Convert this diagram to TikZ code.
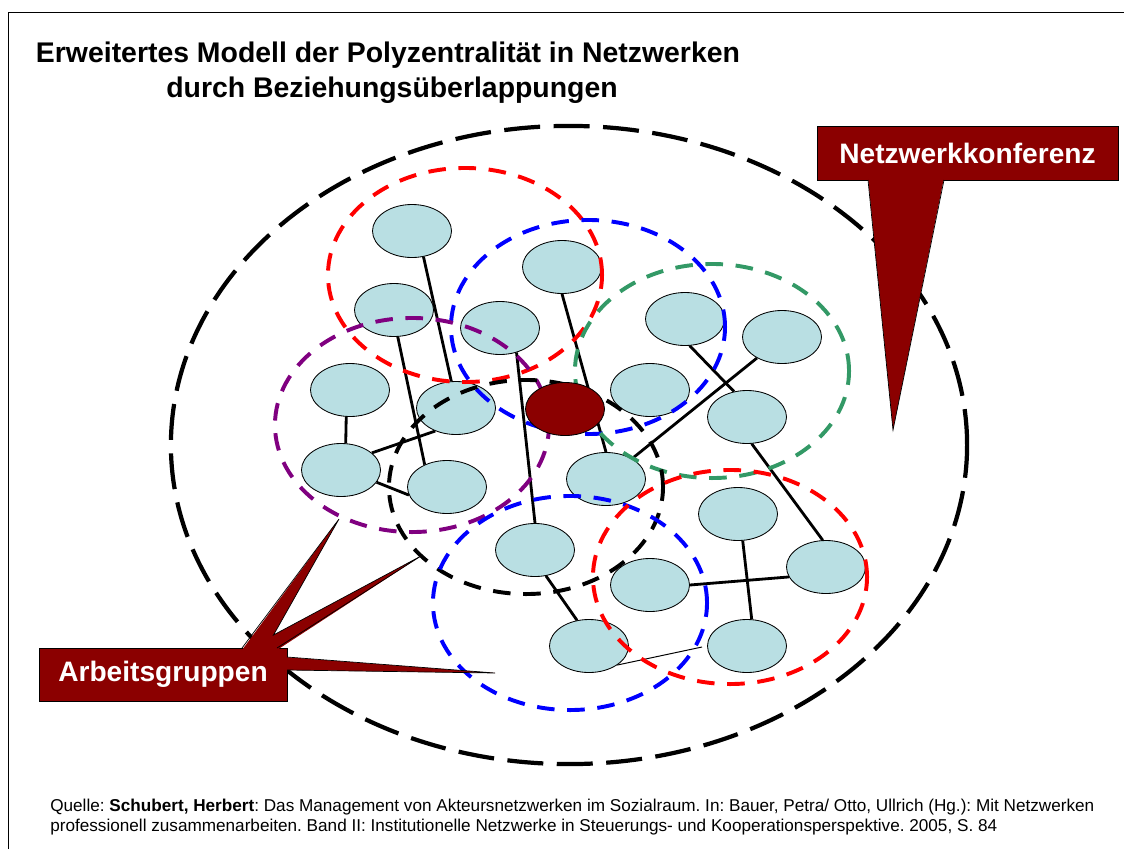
\documentclass[tikz,border=0pt]{standalone}
\usepackage{fontspec}
\setmainfont{Liberation Sans}
\usetikzlibrary{shapes.geometric, backgrounds}
\definecolor{akteurblau}{HTML}{B9DFE3}
\definecolor{dunkelrot}{HTML}{8B0000}
\definecolor{gruppengruen}{HTML}{339966}
\definecolor{gruppenlila}{HTML}{800080}
\frenchspacing

\begin{document}
\begin{tikzpicture}[x=0.025cm, y=-0.025cm,
    akteur/.style={ellipse, draw, line width=0.6pt, fill=akteurblau, minimum width=1.975cm, minimum height=1.325cm, inner sep=0pt},
    gruppe/.style={ellipse, line width=2.8pt, dash pattern=on 12.5pt off 9pt, minimum width=6.85cm, minimum height=5.35cm, inner sep=0pt},
    bezug/.style={line width=2pt},
    hinweis/.style={draw=black, line width=0.5pt, fill=dunkelrot, text=white, font=\fontsize{20}{24}\selectfont\bfseries, inner sep=0pt}]
    \useasboundingbox (0,0) rectangle (1124,849);
    % Rahmen
    \draw[line width=1.4pt] (8.5,849) -- (8.5,12.5) -- (1124,12.5);
    \node[anchor=base, font=\fontsize{20.2}{24}\selectfont\bfseries] (titel1) at (388,62) {Erweitertes Modell der Polyzentralität in Netzwerken};
    \node[anchor=base, font=\fontsize{20.2}{24}\selectfont\bfseries] (titel2) at (392,97) {durch Beziehungsüberlappungen};
    \node[anchor=base west, font=\fontsize{12.2}{14}\selectfont, inner sep=0pt] (quelle1) at (50,811.5) {Quelle: \textbf{Schubert, Herbert}: Das Management von Akteursnetzwerken im Sozialraum. In: Bauer, Petra/ Otto, Ullrich (Hg.): Mit Netzwerken};
    \node[anchor=base west, font=\fontsize{12.2}{14}\selectfont, inner sep=0pt] (quelle2) at (50,831.5) {professionell zusammenarbeiten. Band II: Institutionelle Netzwerke in Steuerungs- und Kooperationsperspektive. 2005, S. 84};

    % Akteure
    \node[akteur] (a1) at (412,231) {};
    \node[akteur] (a2) at (394,310) {};
    \node[akteur] (a3) at (500,328) {};
    \node[akteur] (a4) at (562,267) {};
    \node[akteur] (a5) at (350,390) {};
    \node[akteur] (a6) at (456,408) {};
    \node[akteur] (a8) at (650,390) {};
    \node[akteur] (a9) at (341,470) {};
    \node[akteur] (a10) at (447,487) {};
    \node[akteur] (a11) at (606,479) {};
    \node[akteur] (a12) at (685,319) {};
    \node[akteur] (a13) at (782,337) {};
    \node[akteur] (a14) at (747,417) {};
    \node[akteur] (a15) at (535,550) {};
    \node[akteur] (a16) at (738,514) {};
    \node[akteur] (a17) at (650,585) {};
    \node[akteur] (a18) at (826,567) {};
    \node[akteur] (a19) at (589,646) {};
    \node[akteur] (a20) at (747,646) {};
    \coordinate (offen) at (702,647);

    % Beziehungen
    \begin{scope}[on background layer]
        \draw[bezug] (a1.-66) -- (a6.100);
        \draw[bezug] (a2.-82) -- (a10.135);
        \draw[bezug] (a5.-98) -- (a9.80);
        \draw[bezug] (a9.29) -- (a6.228);
        \draw[bezug] (a9.-19) -- (a10.192);
        \draw[bezug] (a3.-56) -- (a15.north);
        \draw[bezug] (a4.south) -- (a11.north);
        \draw[bezug] (a12.-80) -- (a14.117);
        \draw[bezug] (a13.220) -- (a11.38);
        \draw[bezug] (a14.-80) -- (a18.97);
        \draw[bezug] (a16.-80) -- (a20.80);
        \draw[bezug] (a17.east) -- (a18.195);
        \draw[bezug] (a15.-67) -- (a19.115);
        \draw[line width=0.7pt] (a19.south east) -- (offen);
    \end{scope}

    % Gruppen
    \node[gruppe, draw=red] (rotoben) at (465,275) {};
    \node[gruppe, draw=blue] (blauoben) at (588,327) {};
    \node[gruppe, draw=gruppengruen] (gruen) at (712,371) {};
    \node[gruppe, draw=gruppenlila] (lila) at (412,425) {};
    \node[gruppe, draw=black] (mitte) at (526,487) {};
    \node[gruppe, draw=blue] (blauunten) at (570,603) {};
    \node[gruppe, draw=red] (rotunten) at (730,577) {};
    \node[ellipse, draw, line width=3pt, dash pattern=on 25.6pt off 9.6pt, minimum width=19.9cm, minimum height=15.95cm, inner sep=0pt] (konferenz) at (569,445) {};

    \node[akteur, fill=dunkelrot] (zentrum) at (565,409) {};

    % Hinweise
    \node[hinweis, minimum width=7.525cm, minimum height=1.35cm] (netzkonf) at (967.5,153) {Netzwerkkonferenz};
    \fill[dunkelrot] (868,178) -- (893,430) -- (944,178) -- cycle;
    \draw[line width=0.5pt] (868,180) -- (893,430) -- (944,180);

    \node[hinweis, minimum width=6.2cm, minimum height=1.325cm] (arbeitsgr) at (163,674.5) {Arbeitsgruppen};
    \fill[dunkelrot] (242,650) -- (339,519) -- (273.5,635) -- (421,556) -- (277,650) -- cycle;
    \draw[line width=0.5pt] (242,648) -- (339,519) -- (273.5,635) -- (421,556) -- (277,648);
    \fill[dunkelrot] (285,657) -- (495,673) -- (285,670) -- cycle;
    \draw[line width=0.5pt] (287,657) -- (495,673) -- (287,670);
\end{tikzpicture}
\end{document}
